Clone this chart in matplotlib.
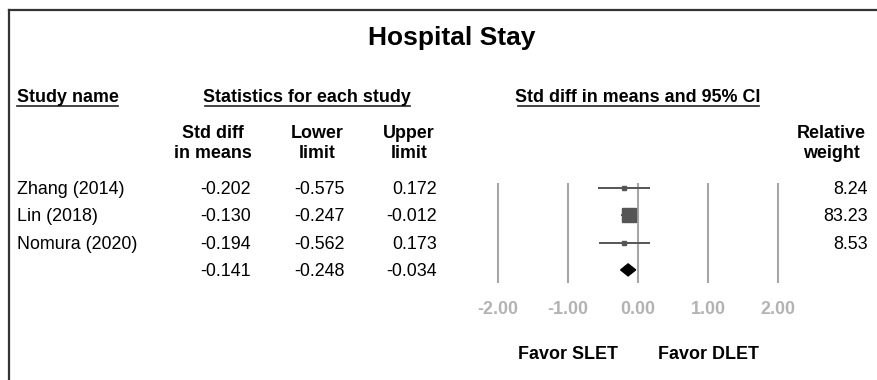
import matplotlib
matplotlib.use("Agg")
import matplotlib.pyplot as plt
import matplotlib.transforms as mtransforms
from matplotlib.patches import Polygon

plt.rcParams['font.family'] = ['Liberation Sans', 'DejaVu Sans']

# =========================
# DATA
# =========================

studies = ["Zhang (2014)", "Lin (2018)", "Nomura (2020)"]
smd = [-0.202, -0.130, -0.194]
lower = [-0.575, -0.247, -0.562]
upper = [0.172, -0.012, 0.173]
weights = [8.24, 83.23, 8.53]

pooled_smd = -0.141
pooled_lower = -0.248
pooled_upper = -0.034

axis_ticks = [-2.0, -1.0, 0.0, 1.0, 2.0]

W, H = 878, 380
FS = 12.9
GRID = "#a6a6a6"
MARK = "#555555"

fig = plt.figure(figsize=(W / 100, H / 100), dpi=100)

# page axes in pixel units, for the frame and headers
page = fig.add_axes([0, 0, 1, 1])
page.set_xlim(0, W)
page.set_ylim(H, 0)
page.axis("off")

# forest panel: x in effect units, y in row index
left_px, right_px = 470, 806
top_px, bot_px = 175, 295
row0_px, row_step = 188, 27.3
ax = fig.add_axes([left_px / W, 1 - bot_px / H, (right_px - left_px) / W, (bot_px - top_px) / H])
span = (right_px - left_px) / 70 / 2
ax.set_xlim(-span, span)
ax.set_ylim((bot_px - row0_px) / row_step, (top_px - row0_px) / row_step)
for s in ax.spines.values():
    s.set_visible(False)
ax.set_yticks([])
ax.set_xticks(axis_ticks)
ax.set_xticklabels([f"{t:.2f}" for t in axis_ticks], fontsize=FS, fontweight="bold", color="#b3b3b3")
ax.tick_params(axis="x", length=0, pad=4)
ax.patch.set_alpha(0)

ax.vlines(axis_ticks, (183 - row0_px) / row_step, (283 - row0_px) / row_step, color=GRID, lw=1.5)

rows = list(range(len(studies)))
for i in rows:
    ax.hlines(i, lower[i], upper[i], color=MARK, lw=1.4)
    ax.plot(smd[i], i, marker="s", ms=1.03 * weights[i] ** 0.5, color=MARK, mec=MARK)

pr = len(studies)
dh = 0.22
ax.add_patch(Polygon([(pooled_lower, pr), (pooled_smd, pr - dh), (pooled_upper, pr), (pooled_smd, pr + dh)],
                     closed=True, color="black"))

# text columns share the forest rows (nudged down a pixel so the caps sit on the row)
nudge = mtransforms.ScaledTranslation(0, -1.5 / 100, fig.dpi_scale_trans)
row_tr = mtransforms.blended_transform_factory(page.transData, ax.transData) + nudge
for i, name in enumerate(studies):
    page.text(17, i, name, transform=row_tr, fontsize=FS, va="center", ha="left")
    page.text(251, i, f"{smd[i]:.3f}", transform=row_tr, fontsize=FS, va="center", ha="right")
    page.text(345, i, f"{lower[i]:.3f}", transform=row_tr, fontsize=FS, va="center", ha="right")
    page.text(437, i, f"{upper[i]:.3f}", transform=row_tr, fontsize=FS, va="center", ha="right")
    page.text(868, i, f"{weights[i]:.2f}", transform=row_tr, fontsize=FS, va="center", ha="right")
page.text(251, pr, f"{pooled_smd:.3f}", transform=row_tr, fontsize=FS, va="center", ha="right")
page.text(345, pr, f"{pooled_lower:.3f}", transform=row_tr, fontsize=FS, va="center", ha="right")
page.text(437, pr, f"{pooled_upper:.3f}", transform=row_tr, fontsize=FS, va="center", ha="right")

# frame
page.plot([9.5, W], [9.5, 9.5], color="#333333", lw=1.6, solid_capstyle="projecting")
page.plot([9.5, 9.5], [9.5, H], color="#333333", lw=1.6, solid_capstyle="projecting")

# title and headers
page.text(452, 38, "Hospital Stay", fontsize=19, fontweight="bold", ha="center", va="center")

heads = [(17, "left", "Study name", 17, 118),
         (307, "center", "Statistics for each study", 205, 410),
         (638, "center", "Std diff in means and 95% CI", 518, 759)]
for x, ha, label, u0, u1 in heads:
    page.text(x, 97.5, label, fontsize=FS, fontweight="bold", ha=ha, va="center")
    page.plot([u0, u1], [105.5, 105.5], color="#222222", lw=1.2)

subheads = [(213, "Std diff\nin means"), (317, "Lower\nlimit"), (409, "Upper\nlimit"), (831, "Relative\nweight")]
for x, label in subheads:
    page.text(x, 143.5, label, fontsize=FS, fontweight="bold", ha="center", va="center", linespacing=1.3)

# favour labels under the axis
fav_tr = mtransforms.blended_transform_factory(ax.transData, page.transData)
page.text(-1, 354.5, "Favor SLET", transform=fav_tr, fontsize=FS, fontweight="bold", ha="center", va="center")
page.text(1, 354.5, "Favor DLET", transform=fav_tr, fontsize=FS, fontweight="bold", ha="center", va="center")

fig.savefig("out.png", dpi=100)
